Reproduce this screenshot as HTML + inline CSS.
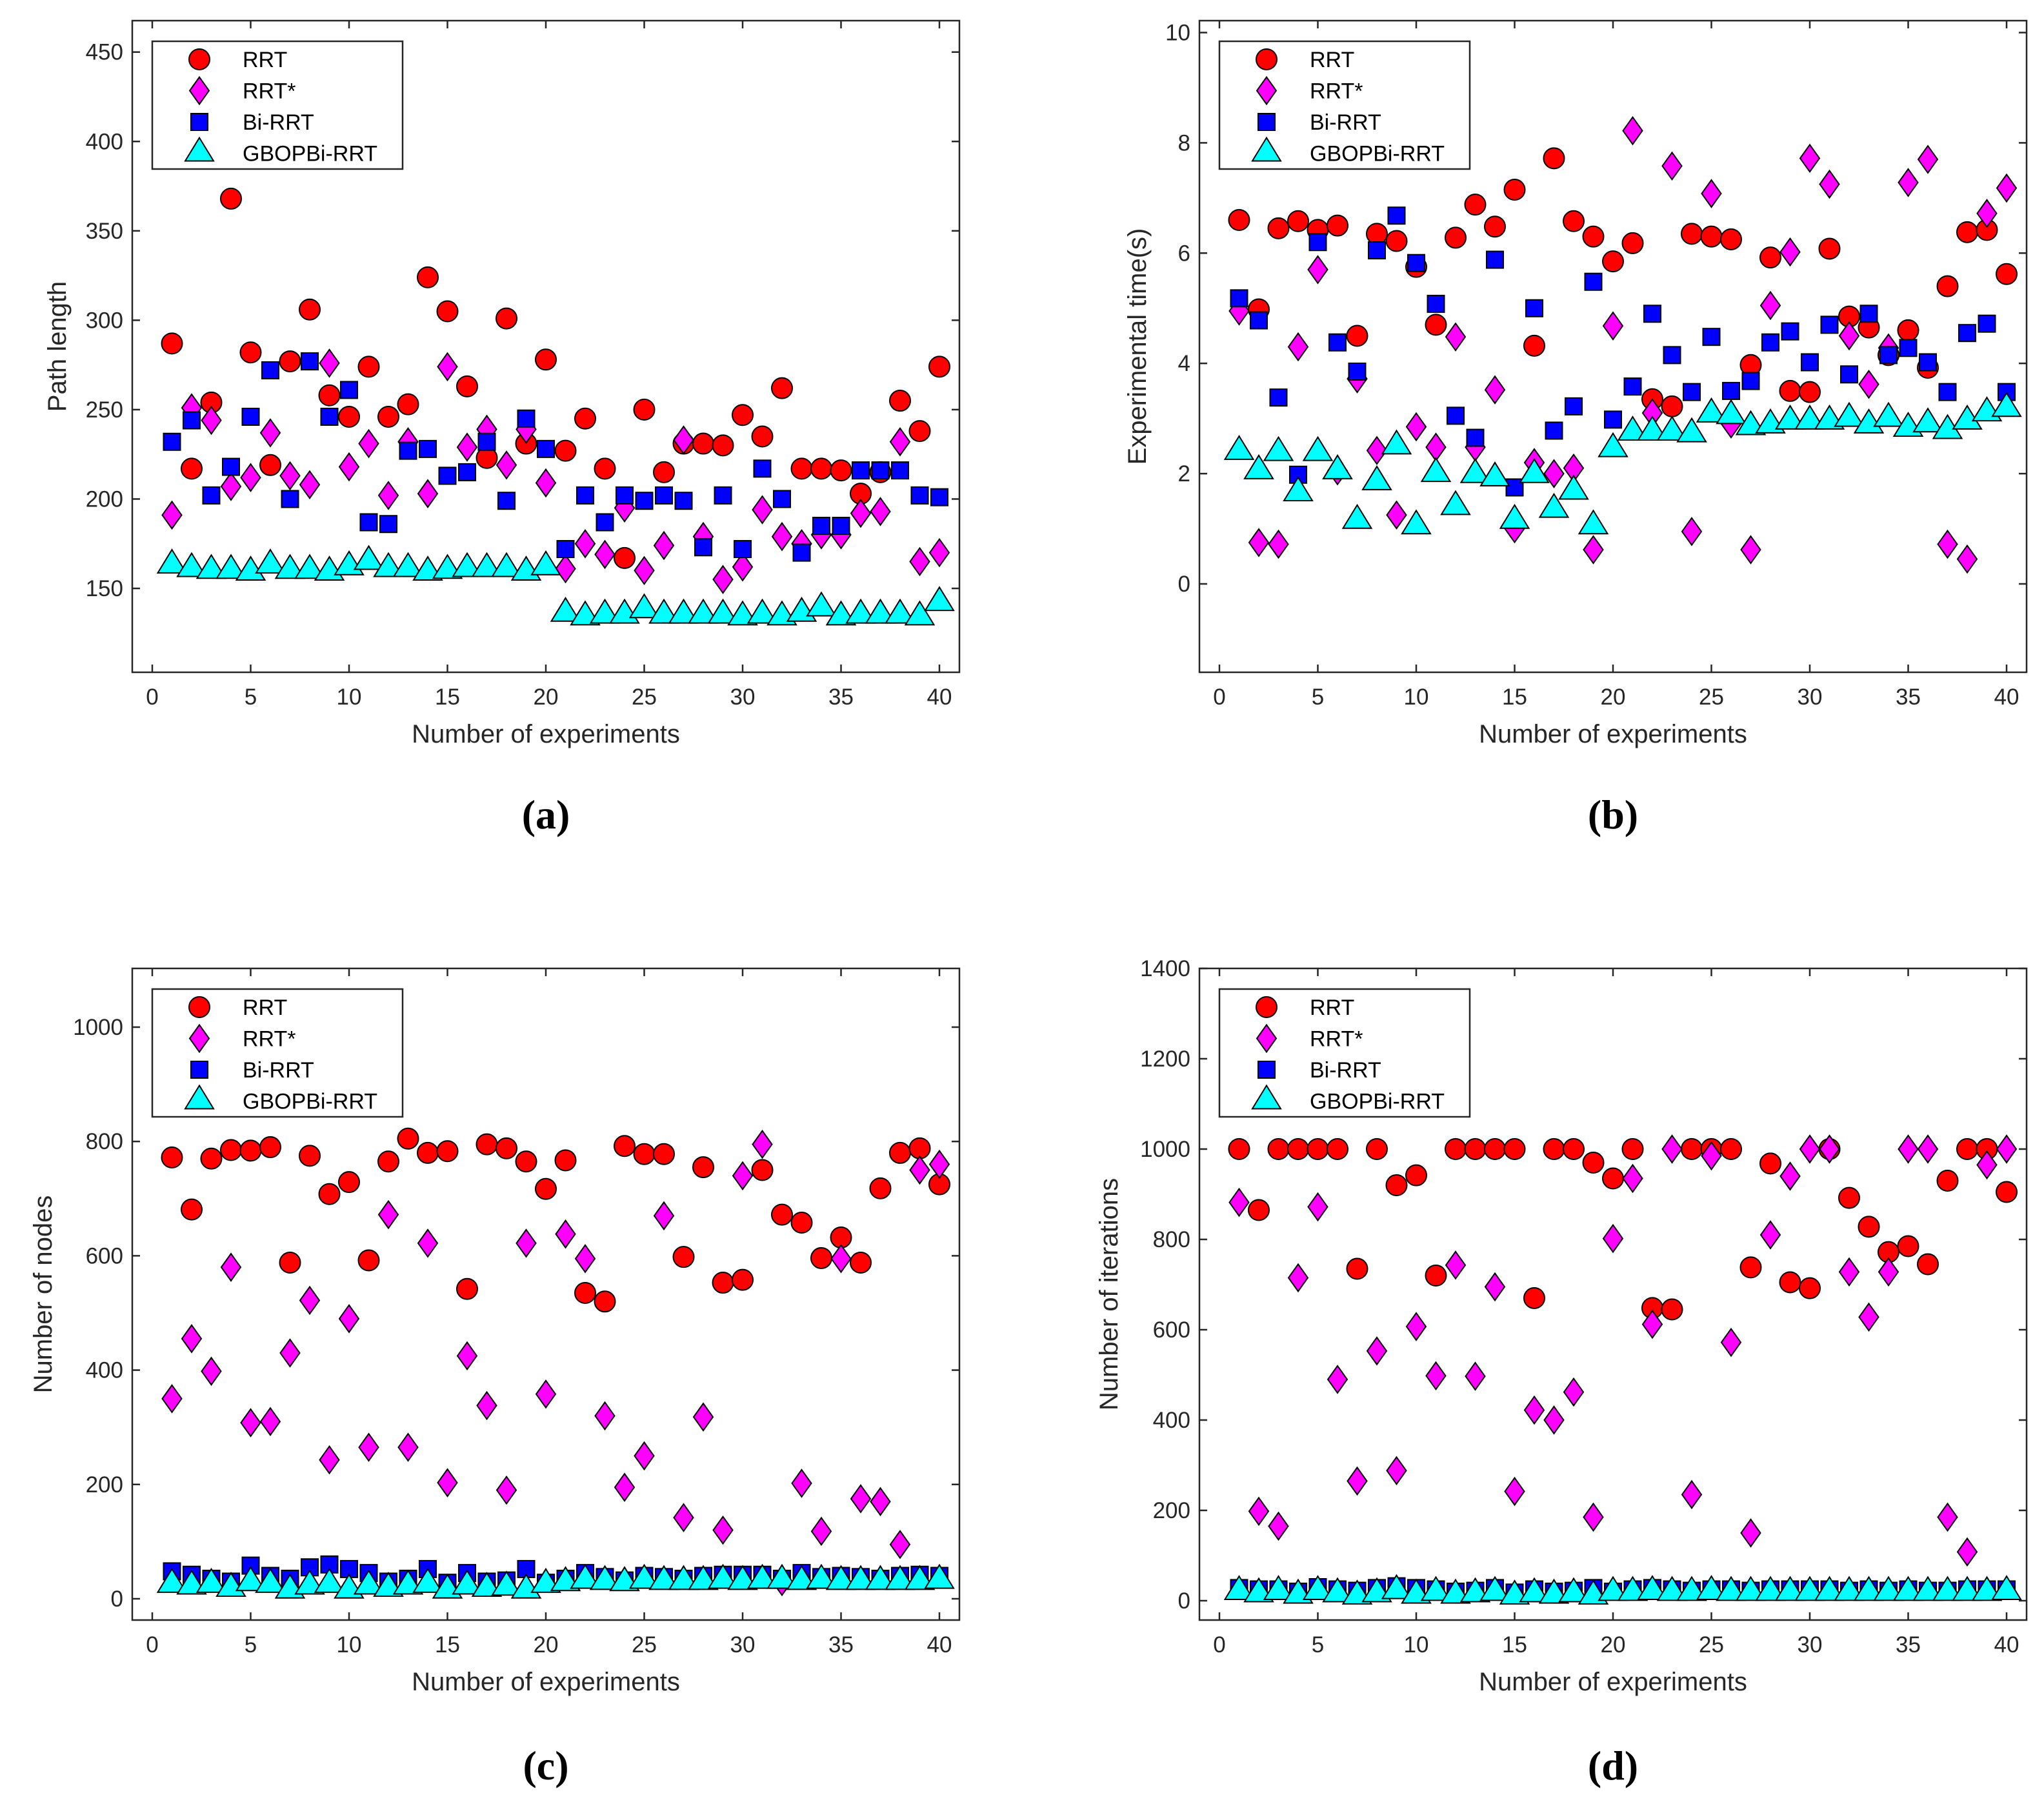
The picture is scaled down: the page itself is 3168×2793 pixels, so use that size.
<!DOCTYPE html>
<html><head><meta charset="utf-8"><style>
html,body{margin:0;padding:0;background:#fff;}
svg{display:block;font-family:"Liberation Sans",sans-serif;}
</style></head><body>
<svg id="fig" width="3168" height="2793" viewBox="0 0 3168 2793" xmlns="http://www.w3.org/2000/svg"></svg>
<script>
const experiments = Array.from({length:40},(_,i)=>i+1);
// (a) path length
const aRRT=[287,217,254,368,282,219,277,306,258,246,274,246,253,324,305,263,223,301,231,278,227,245,217,167,250,215,231,231,230,247,235,262,217,217,216,203,215,255,238,274];
const aRRTs=[191,251,244,207,212,237,213,208,276,218,231,202,232,203,274,229,239,219,239,209,161,175,169,195,160,174,233,179,155,162,194,179,175,180,180,192,193,232,165,170];
const aBi=[232,244,202,218,246,272,200,277,246,261,187,186,227,228,213,215,232,199,245,228,172,202,187,202,199,202,199,173,202,172,217,200,170,185,185,216,216,216,202,201];
const aGB=[163,161,160,160,159,163,160,160,159,162,165,161,161,159,160,161,161,161,159,162,136,134,135,135,138,135,135,135,135,134,135,134,136,139,134,135,135,135,134,142];
// (b) time
const bRRT=[6.6,4.98,6.45,6.58,6.42,6.5,4.5,6.35,6.22,5.75,4.7,6.28,6.88,6.48,7.15,4.32,7.72,6.58,6.3,5.85,6.18,3.35,3.22,6.35,6.3,6.25,3.97,5.92,3.5,3.48,6.08,4.85,4.65,4.15,4.6,3.92,5.4,6.38,6.42,5.62];
const bRRTs=[4.95,0.75,0.72,4.3,5.7,2.05,3.72,2.42,1.25,2.85,2.48,4.48,2.48,3.52,1.0,2.2,2.0,2.1,0.62,4.68,8.22,3.1,7.58,0.95,7.08,2.9,0.62,5.05,6.02,7.72,7.25,4.5,3.62,4.28,7.28,7.7,0.72,0.45,6.72,7.18];
const bBi=[5.18,4.78,3.38,1.98,6.2,4.38,3.85,6.05,6.68,5.82,5.08,3.05,2.65,5.88,1.75,5.0,2.78,3.22,5.48,2.98,3.58,4.9,4.15,3.48,4.48,3.5,3.68,4.38,4.58,4.02,4.7,3.8,4.9,4.15,4.28,4.02,3.48,4.55,4.72,3.48];
const bGB=[2.4,2.05,2.38,1.65,2.38,2.05,1.15,1.85,2.5,1.05,2.0,1.4,1.98,1.92,1.15,1.98,1.35,1.68,1.05,2.45,2.75,2.75,2.75,2.72,3.08,3.05,2.85,2.88,2.95,2.95,2.95,3.0,2.88,3.0,2.82,2.9,2.78,2.95,3.1,3.18];
// (c) nodes
const cRRT=[772,681,770,785,784,790,588,775,708,729,592,765,805,780,783,542,795,788,765,717,767,535,520,792,778,778,598,755,553,558,750,672,658,596,632,588,718,780,788,725];
const cRRTs=[350,455,398,580,308,310,430,522,243,490,265,672,265,622,203,425,338,190,622,358,638,595,320,195,250,670,142,318,120,740,795,30,202,118,595,175,170,95,750,760];
const cBi=[48,42,35,30,58,40,35,55,60,52,45,30,35,52,28,45,30,32,52,28,35,45,38,32,40,38,35,40,42,42,42,35,45,38,40,38,35,40,42,40];
const cGB=[25,22,25,18,28,25,15,22,25,15,22,18,22,25,15,22,18,20,15,25,28,32,30,28,32,30,30,30,32,30,32,32,30,32,30,30,30,30,30,32];
// (d) iterations
const dRRT=[1000,865,1000,1000,1000,1000,735,1000,920,942,720,1000,1000,1000,1000,670,1000,1000,970,935,1000,648,645,1000,1000,1000,738,968,705,692,1000,892,828,772,785,745,930,1000,1000,905];
const dRRTs=[882,198,165,715,872,490,265,553,288,607,498,743,497,695,242,422,400,462,185,802,935,612,1000,235,985,572,150,810,940,1000,1000,728,628,728,1000,1000,185,108,965,1000];
const dBi=[28,25,25,20,30,25,22,28,32,28,25,20,22,28,18,25,20,22,28,20,25,28,25,22,25,25,22,25,25,25,25,22,25,22,25,22,22,25,25,25];
const dGB=[20,15,20,12,20,15,10,15,22,12,18,12,15,18,10,15,12,15,10,18,18,20,18,18,20,18,18,18,18,18,18,18,18,18,18,18,18,18,18,20];
const xTicks=[0,5,10,15,20,25,30,35,40];
const aTicks=[150,200,250,300,350,400,450];
const bTicks=[0,2,4,6,8,10];
const cTicks=[0,200,400,600,800,1000];
const dTicks=[0,200,400,600,800,1000,1200,1400];
const seriesNames=["RRT","RRT*","Bi-RRT","GBOPBi-RRT"];

const NS="http://www.w3.org/2000/svg";
const svg=document.getElementById('fig');
function el(tag,attrs,parent,text){const e=document.createElementNS(NS,tag);for(const k in attrs)e.setAttribute(k,attrs[k]);if(text!==undefined)e.textContent=text;(parent||svg).appendChild(e);return e;}

function marker(g,kind,cx,cy){
  let m;
  if(kind===0){m=el('circle',{cx:cx,cy:cy,r:16,fill:'#ff0000',stroke:'#000','stroke-width':2},g);}
  else if(kind===1){m=el('polygon',{points:`${cx},${cy-21} ${cx+15},${cy} ${cx},${cy+21} ${cx-15},${cy}`,fill:'#ff00ff',stroke:'#000','stroke-width':2},g);}
  else if(kind===2){m=el('rect',{x:cx-13,y:cy-13,width:26,height:26,fill:'#0000ff',stroke:'#000','stroke-width':2},g);}
  else {m=el('polygon',{points:`${cx},${cy-24} ${cx+22},${cy+12} ${cx-22},${cy+12}`,fill:'#00ffff',stroke:'#000','stroke-width':2},g);}
  return m;
}

function panel(cfg){
  const g=el('g',{});
  
  
  const L=cfg.left,R=cfg.left+1282,T=cfg.top,B=cfg.top+1010;
  const x0=L+31,xs=30.5;
  const X=v=>x0+v*xs;
  const Y=v=>cfg.y0-(v-cfg.v0)*cfg.ys;
  xTicks.forEach(t=>{
    el('line',{x1:X(t),x2:X(t),y1:B,y2:B-12,stroke:'#262626','stroke-width':2.5},g);
    el('line',{x1:X(t),x2:X(t),y1:T,y2:T+12,stroke:'#262626','stroke-width':2.5},g);
    const tl=el('text',{x:X(t),y:B+50,'font-size':35,'text-anchor':'middle',fill:'#262626'},g,String(t));
    
    
  });
  cfg.ticks.forEach(t=>{
    el('line',{x1:L,x2:L+12,y1:Y(t),y2:Y(t),stroke:'#262626','stroke-width':2.5},g);
    el('line',{x1:R,x2:R-12,y1:Y(t),y2:Y(t),stroke:'#262626','stroke-width':2.5},g);
    const tl=el('text',{x:L-14,y:Y(t)+12,'font-size':35,'text-anchor':'end',fill:'#262626'},g,String(t));
    
    
  });
  cfg.data.forEach((arr,k)=>{
    const sg=el('g',{},g);
    
    
    arr.forEach((v,i)=>{
      const m=marker(sg,k,X(experiments[i]),Y(v));
      
      
    });
  });
  const lg=el('g',{},g);
  
  
  el('rect',{x:L+31,y:T+32,width:388,height:198,fill:'#fff',stroke:'#262626','stroke-width':2.5},lg);
  seriesNames.forEach((n,k)=>{
    const cy=T+60+k*48.5;
    marker(lg,k,L+104,cy);
    const t=el('text',{x:L+171,y:cy+12,'font-size':34,fill:'#000'},lg,n);
    
    
  });
  el('rect',{x:L,y:T,width:R-L,height:B-T,fill:'none',stroke:'#262626','stroke-width':2.5},g);
  const xl=el('text',{x:(L+R)/2,y:B+109,'font-size':40,'text-anchor':'middle',fill:'#262626'},g,'Number of experiments');
  
  
  const yl=el('text',{x:cfg.ylx,y:(T+B)/2,'font-size':40,'text-anchor':'middle',fill:'#262626',transform:`rotate(-90 ${cfg.ylx} ${(T+B)/2})`},g,cfg.ylabel);
  
  
  const cap=el('text',{x:(L+R)/2,y:cfg.capY,'font-size':64,'font-weight':'bold','text-anchor':'middle',fill:'#000','font-family':'Liberation Serif, serif'},g,cfg.cap);
  
  
}

panel({name:'panel-a-path-length',left:205,top:32,y0:912,v0:150,ys:2.771,ticks:aTicks,data:[aRRT,aRRTs,aBi,aGB],ylabel:'Path length',ylx:102,cap:'(a)',capY:1284});
panel({name:'panel-b-time',left:1859,top:32,y0:905,v0:0,ys:85.45,ticks:bTicks,data:[bRRT,bRRTs,bBi,bGB],ylabel:'Experimental time(s)',ylx:1776,cap:'(b)',capY:1284});
panel({name:'panel-c-nodes',left:205,top:1501,y0:2478,v0:0,ys:0.886,ticks:cTicks,data:[cRRT,cRRTs,cBi,cGB],ylabel:'Number of nodes',ylx:80,cap:'(c)',capY:2758});
panel({name:'panel-d-iterations',left:1859,top:1501,y0:2481,v0:0,ys:0.7,ticks:dTicks,data:[dRRT,dRRTs,dBi,dGB],ylabel:'Number of iterations',ylx:1732,cap:'(d)',capY:2758});
</script>
</body></html>
